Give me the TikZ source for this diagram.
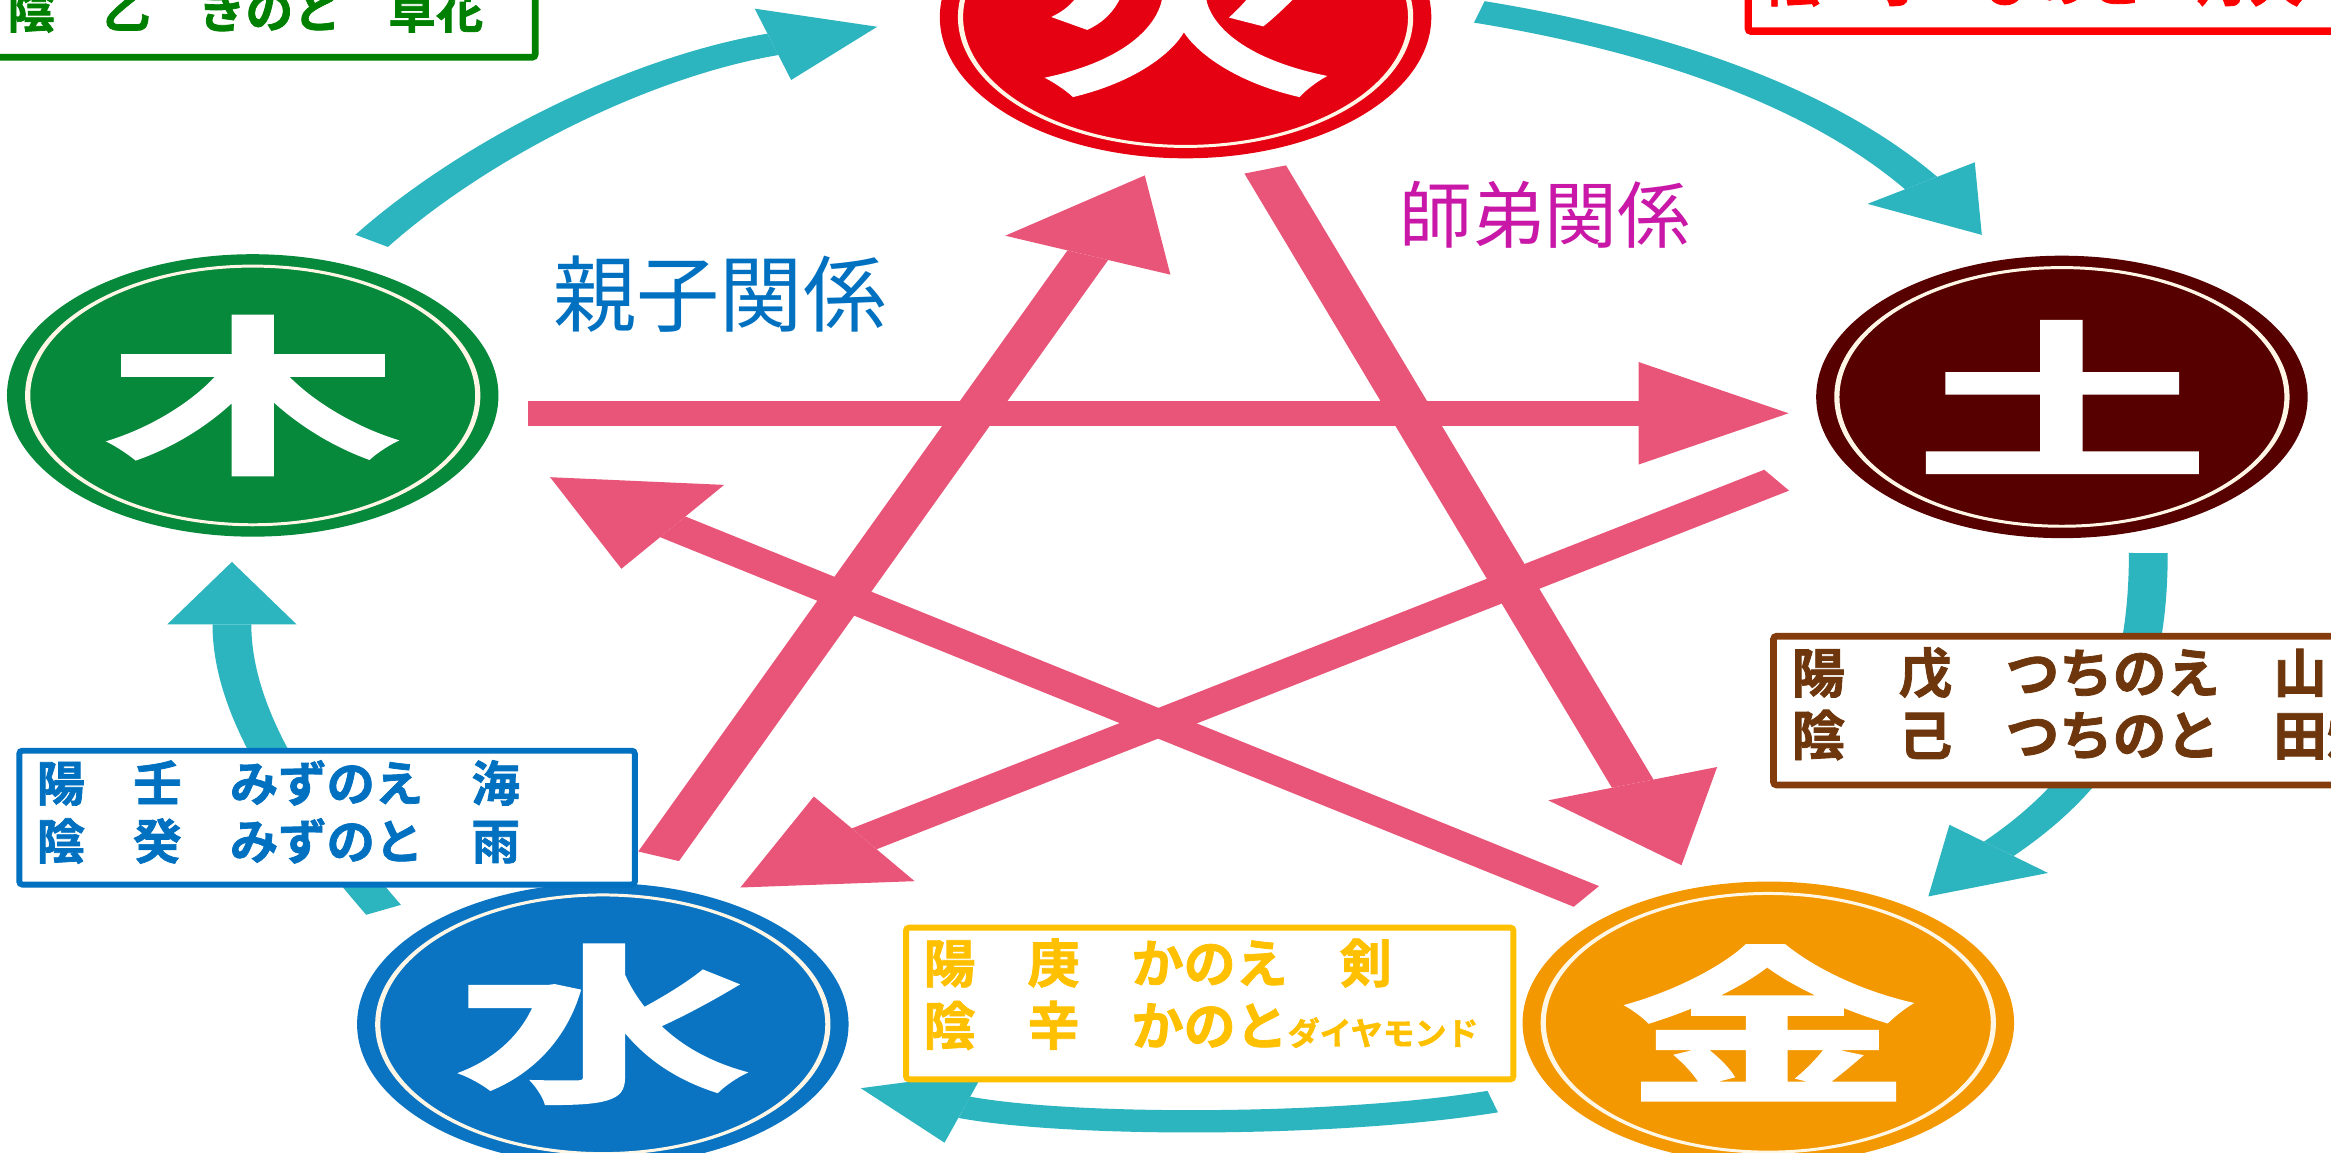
\documentclass[tikz,border=0pt]{standalone}
\usepackage{fontspec}
\newfontfamily\jp{Noto Sans CJK JP}
\newfontfamily\jpheavy{Noto Sans CJK JP}[UprightFont=* Bold,FakeBold=1.5]
\usetikzlibrary{arrows.meta}
\definecolor{cyanc}{HTML}{2CB5BF}
\definecolor{pinkc}{HTML}{E85578}
\definecolor{firec}{HTML}{E50012}
\definecolor{woodc}{HTML}{06893B}
\definecolor{earthc}{HTML}{560000}
\definecolor{metalc}{HTML}{F39800}
\definecolor{waterc}{HTML}{0A74C2}
\definecolor{ringc}{HTML}{FFF6E6}
\definecolor{oyako}{HTML}{0070C0}
\definecolor{shitei}{HTML}{C918A8}
\definecolor{greent}{HTML}{008000}
\definecolor{redt}{HTML}{FF0000}
\definecolor{brownb}{HTML}{843C0C}
\definecolor{brownt}{HTML}{6E360C}
\definecolor{bluet}{HTML}{0070C0}
\definecolor{yellowt}{HTML}{FFC000}
\begin{document}
\begin{tikzpicture}[x=1pt,y=-1pt,
  cyanarrow/.style={draw=cyanc,line width=15pt,-{Triangle[length=42pt,width=50pt,line width=0pt]}},
  pinkarrow/.style={draw=pinkc,line width=17pt,-{Triangle[length=58pt,width=69pt,line width=0pt]}},
  elem/.style={circle,minimum size=190pt,inner sep=0pt,text=white,font=\jpheavy\fontsize{114}{114}\selectfont},
  ringnode/.style={circle,minimum size=174pt,inner sep=0pt,draw=ringc,line width=2pt},
  infobox/.style={line width=4.5pt,fill=white,rounded corners=2pt},
  infotext/.style={anchor=base west,inner sep=0pt,font=\jpheavy\fontsize{#1}{#1}\selectfont},
  label/.style={anchor=base west,inner sep=0pt,font=\jp\fontsize{#1}{#1}\selectfont}
]
\useasboundingbox (0,0) rectangle (1568,775);
\clip (0,0) rectangle (1568,775);
\fill[white] (0,0) rectangle (1568,775);

\begin{scope}[transform canvas={xscale=1.74},xscale=0.574713]
  % generating cycle (cyan)
  \coordinate (c1s) at (250,162);  \coordinate (c1e) at (590,18);
  \coordinate (c2s) at (995,8);    \coordinate (c2e) at (1333,158);
  \coordinate (c3s) at (1445,372); \coordinate (c3e) at (1297,603);
  \coordinate (c4s) at (1004,741); \coordinate (c4e) at (579,732);
  \coordinate (c5s) at (258,612);  \coordinate (c5e) at (156,378);
  \draw[cyanarrow] (c1s) .. controls (320,100) and (430,45) .. (c1e);
  \draw[cyanarrow] (c2s) .. controls (1130,30) and (1230,70) .. (c2e);
  \draw[cyanarrow] (c3s) .. controls (1445,460) and (1420,520) .. (c3e);
  \draw[cyanarrow] (c4s) .. controls (900,758) and (720,758) .. (c4e);
  \draw[cyanarrow] (c5s) .. controls (200,545) and (156,480) .. (c5e);
  % controlling cycle (pink star)
  \coordinate (p1s) at (355,278);  \coordinate (p1e) at (1203,278);
  \coordinate (p2s) at (1195,323); \coordinate (p2e) at (498,597);
  \coordinate (p3s) at (443,576);  \coordinate (p3e) at (770,118);
  \coordinate (p4s) at (851,114);  \coordinate (p4e) at (1131,582);
  \coordinate (p5s) at (1067,603); \coordinate (p5e) at (370,321);
  \draw[pinkarrow] (p1s) -- (p1e);
  \draw[pinkarrow] (p2s) -- (p2e);
  \draw[pinkarrow] (p3s) -- (p3e);
  \draw[pinkarrow] (p4s) -- (p4e);
  \draw[pinkarrow] (p5s) -- (p5e);
  % elements
  \node[elem,fill=firec]  (fire)  at (797.5,11.5) {火};
  \node[ringnode] (fireR) at (797.5,11.5) {};
  \node[elem,fill=woodc]  (wood)  at (170,266) {木};
  \node[ringnode] (woodR) at (170,266) {};
  \node[elem,fill=earthc] (earth) at (1387,267) {土};
  \node[ringnode] (earthR) at (1387,267) {};
  \node[elem,fill=metalc] (metal) at (1189.5,688) {金};
  \node[ringnode] (metalR) at (1189.5,688) {};
  \node[elem,fill=waterc] (water) at (405.5,689) {水};
  \node[ringnode] (waterR) at (405.5,689) {};
\end{scope}

% relation labels
\node[label=56,text=oyako]  (lbl1) at (372,219) {親子関係};
\node[label=49,text=shitei] (lbl2) at (941,163) {師弟関係};

% info boxes
\draw[infobox,draw=greent] (-20,-80) rectangle (360,38.5);
\node[infotext=32,text=greent] (woodT) at (5,19) {陰　乙　きのと　草花};

\draw[infobox,draw=redt,line width=5pt] (1176,-80) rectangle (1620,21);
\node[infotext=36,text=redt] (fireT) at (1189,1) {陰　丁　ひのと　灯火};

\draw[infobox,draw=brownb] (1193,428) rectangle (1620,528);
\node[infotext=36,text=brownt] (earthT1) at (1205,466) {陽　戊　つちのえ　山};
\node[infotext=36,text=brownt] (earthT2) at (1205,508) {陰　己　つちのと　田畑};

\draw[infobox,draw=bluet,line width=4pt] (13,505) rectangle (427,595);
\node[infotext=32.5,text=bluet] (waterT1) at (24.5,539) {陽　壬　みずのえ　海};
\node[infotext=32.5,text=bluet] (waterT2) at (24.5,578) {陰　癸　みずのと　雨};

\draw[infobox,draw=yellowt,line width=4pt] (609.5,624) rectangle (1018,726);
\node[infotext=35,text=yellowt] (metalT1) at (621,661) {陽　庚　かのえ　剣};
\node[infotext=35,text=yellowt] (metalT2) at (621,703) {陰　辛　かのと{\fontsize{21.5}{21.5}\selectfont ダイヤモンド}};
\end{tikzpicture}
\end{document}
